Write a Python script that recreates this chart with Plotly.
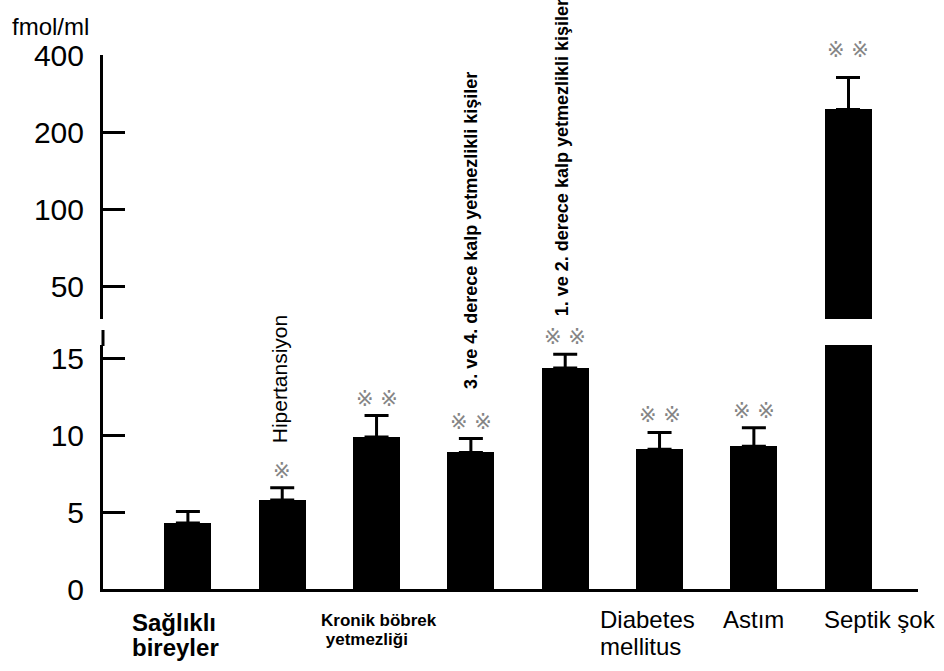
import math
import plotly.graph_objects as go

# Plasma adrenomedullin levels (fmol/ml) by patient group
categories = [
    "Sağlıklı<br>bireyler",
    "Hipertansiyon",
    "Kronik böbrek<br> yetmezliği",
    "3. ve 4. derece kalp yetmezlikli kişiler",
    "1. ve 2. derece kalp yetmezlikli kişiler",
    "Diabetes<br>mellitus",
    "Astım",
    "Septik şok",
]
means = [4.3, 5.8, 9.9, 8.9, 14.4, 9.1, 9.3, 246]
sem = [0.75, 0.8, 1.4, 0.9, 0.9, 1.1, 1.2, 82]
significance = ["", "※", "※※", "※※", "※※", "※※", "※※", "※※"]
upper_ticks = [50, 100, 200, 400]
lower_ticks = [0, 5, 10, 15]
unit_label = "fmol/ml"

W, H = 944, 671
FONT = "Liberation Sans, Arial, sans-serif"
MARK_FONT = dict(family="DejaVu Sans", size=21, color="#858585")


def px_x(p):
    return p / W


def px_y(p):
    return 1 - p / H


x_idx = list(range(len(categories)))
lower_max = 15.9

# upward-only error whiskers
err = dict(type="data", array=sem, arrayminus=[0] * len(sem), symmetric=False,
           color="black", thickness=3, width=12)

fig = go.Figure()
# upper (log) panel and lower (linear) panel share the same data
fig.add_trace(go.Bar(x=x_idx, y=means, xaxis="x", yaxis="y", marker_color="black",
                     marker_line_width=0, width=0.5, error_y=err, showlegend=False))
fig.add_trace(go.Bar(x=x_idx, y=means, xaxis="x2", yaxis="y2", marker_color="black",
                     marker_line_width=0, width=0.5, showlegend=False))
# whiskers for the lower panel drawn as an invisible-marker scatter with error bars
fig.add_trace(go.Scatter(x=x_idx, y=means, xaxis="x2", yaxis="y2", mode="markers",
                         marker=dict(size=1, color="rgba(0,0,0,0)"), error_y=err,
                         showlegend=False, hoverinfo="skip"))

xdom = [px_x(103), px_x(918)]
xrange = [-0.9, 7.74]
axis_common = dict(showgrid=False, zeroline=False, showline=True, linecolor="black",
                   linewidth=3, ticks="inside", ticklen=22, tickwidth=3, tickcolor="black",
                   tickfont=dict(family=FONT, size=30, color="black"), ticklabelstandoff=10)

fig.update_layout(
    width=W, height=H, margin=dict(l=0, r=0, t=0, b=0, autoexpand=False),
    plot_bgcolor="white", paper_bgcolor="white",
    bargap=0,
    xaxis=dict(domain=xdom, range=xrange, anchor="y", visible=False),
    xaxis2=dict(domain=xdom, range=xrange, anchor="y2", showline=True, linecolor="black",
                linewidth=3, showticklabels=False, ticks="", showgrid=False, zeroline=False),
    yaxis=dict(domain=[px_y(319), px_y(55)], type="log", range=[1.57, 2.6025],
               tickvals=upper_ticks, ticktext=[str(v) for v in upper_ticks],
               anchor="x", **axis_common),
    yaxis2=dict(domain=[px_y(589), px_y(345)], range=[0, lower_max],
                tickvals=lower_ticks, ticktext=[str(v) for v in lower_ticks],
                anchor="x2", **axis_common),
    shapes=[dict(type="line", xref="paper", yref="paper", x0=px_x(103), x1=px_x(103),
                 y0=px_y(330), y1=px_y(346), line=dict(color="black", width=3))],
)

ann = []
# unit label
ann.append(dict(text=unit_label, xref="paper", yref="paper", x=px_x(10), y=px_y(11),
                xanchor="left", yanchor="top", showarrow=False,
                font=dict(family=FONT, size=24, color="black")))

# significance marks above the error bars
for i, (m, s, mark) in enumerate(zip(means, sem, significance)):
    if not mark:
        continue
    top = m + s
    txt = " ".join(mark)
    if top <= lower_max:
        ann.append(dict(text=txt, xref="x2", yref="y2", x=i, y=top, yanchor="middle",
                        yshift=17, showarrow=False, font=MARK_FONT))
    else:
        ann.append(dict(text=txt, xref="x", yref="y", x=i, y=math.log10(top),
                        yanchor="middle", yshift=27, showarrow=False, font=MARK_FONT))

# horizontal group labels under the axis: (index, xshift, first-line top px, size, bold, line step)
horiz = [
    (0, -58, 607, 24, True, 25),
    (2, -58, 609, 17, True, 19),
    (5, -62, 604, 24, False, 27),
    (6, -33, 604, 24, False, 27),
    (7, -26, 604, 24, False, 27),
]
for idx, xs, top_px, size, bold, step in horiz:
    for k, line in enumerate(categories[idx].split("<br>")):
        txt = f"<b>{line}</b>" if bold else line
        ann.append(dict(text=txt, xref="x2", yref="paper", x=idx, xshift=xs,
                        y=px_y(top_px + k * step), xanchor="left", yanchor="top",
                        showarrow=False, font=dict(family=FONT, size=size, color="black")))

# rotated group labels: (index, xshift, center px y, size, bold)
vert = [
    (1, -3, 379, 21, False),
    (3, 0, 230, 18, True),
    (4, -3, 158, 18, True),
]
for idx, xs, cy, size, bold in vert:
    txt = f"<b>{categories[idx]}</b>" if bold else categories[idx]
    ann.append(dict(text=txt, xref="x2", yref="paper", x=idx, xshift=xs, y=px_y(cy),
                    xanchor="center", yanchor="middle", textangle=-90, showarrow=False,
                    font=dict(family=FONT, size=size, color="black")))

fig.update_layout(annotations=ann)
fig.write_html("out.html")
